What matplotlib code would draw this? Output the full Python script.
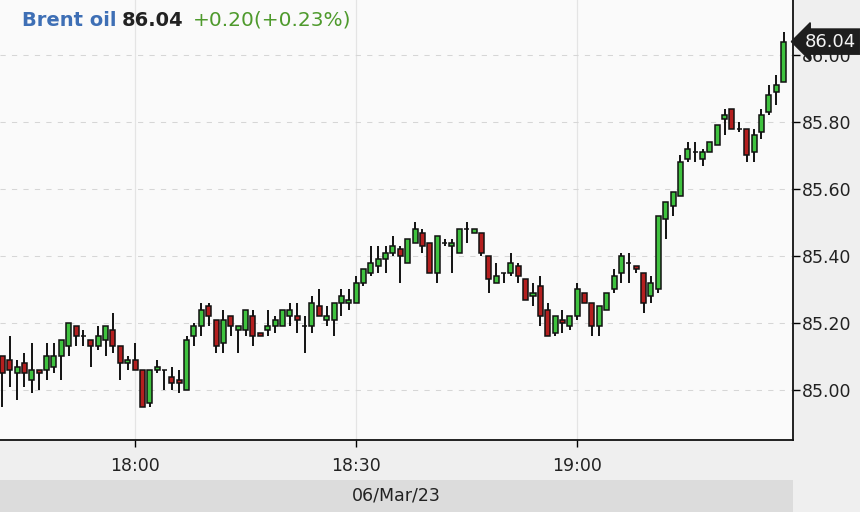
import matplotlib
matplotlib.use("Agg")
import matplotlib.pyplot as plt
import matplotlib.dates as mdates
from matplotlib.patches import Rectangle
import numpy as np
import pandas as pd

# one-minute candles, 06/Mar/23 from 17:42
start = "2023-03-06 17:42"
opens = [85.10, 85.09, 85.05, 85.08, 85.03, 85.06, 85.06, 85.07, 85.10, 85.13,
         85.19, 85.16, 85.15, 85.13, 85.15, 85.18, 85.13, 85.08, 85.09, 85.06,
         84.96, 85.06, 85.06, 85.04, 85.03, 85.00, 85.16, 85.19, 85.25, 85.21,
         85.14, 85.22, 85.18, 85.18, 85.22, 85.17, 85.18, 85.19, 85.19, 85.22,
         85.22, 85.19, 85.19, 85.25, 85.21, 85.21, 85.26, 85.26, 85.26, 85.32,
         85.35, 85.37, 85.39, 85.41, 85.42, 85.38, 85.44, 85.47, 85.44, 85.35,
         85.44, 85.43, 85.41, 85.48, 85.47, 85.47, 85.40, 85.32, 85.35, 85.35,
         85.37, 85.33, 85.28, 85.31, 85.24, 85.17, 85.21, 85.19, 85.22, 85.29,
         85.26, 85.19, 85.24, 85.30, 85.35, 85.38, 85.37, 85.35, 85.28, 85.30,
         85.51, 85.55, 85.58, 85.69, 85.71, 85.69, 85.71, 85.73, 85.81, 85.84,
         85.78, 85.78, 85.71, 85.77, 85.83, 85.89, 85.92]
highs = [85.10, 85.16, 85.09, 85.11, 85.14, 85.06, 85.14, 85.14, 85.15, 85.20,
         85.19, 85.18, 85.15, 85.19, 85.19, 85.23, 85.13, 85.10, 85.14, 85.06,
         85.06, 85.09, 85.06, 85.07, 85.06, 85.16, 85.20, 85.26, 85.26, 85.21,
         85.24, 85.22, 85.19, 85.24, 85.24, 85.17, 85.24, 85.22, 85.24, 85.26,
         85.26, 85.22, 85.28, 85.30, 85.25, 85.26, 85.30, 85.30, 85.34, 85.36,
         85.43, 85.43, 85.43, 85.46, 85.43, 85.45, 85.50, 85.48, 85.44, 85.46,
         85.45, 85.45, 85.48, 85.50, 85.48, 85.47, 85.40, 85.38, 85.35, 85.41,
         85.38, 85.33, 85.32, 85.34, 85.26, 85.22, 85.24, 85.22, 85.32, 85.29,
         85.26, 85.25, 85.29, 85.36, 85.41, 85.41, 85.37, 85.35, 85.34, 85.52,
         85.56, 85.59, 85.70, 85.74, 85.74, 85.72, 85.74, 85.79, 85.84, 85.84,
         85.80, 85.78, 85.78, 85.84, 85.91, 85.94, 86.07]
lows = [84.95, 85.01, 84.97, 85.01, 84.99, 85.00, 85.03, 85.05, 85.03, 85.10,
        85.13, 85.13, 85.07, 85.12, 85.10, 85.11, 85.03, 85.06, 85.06, 84.95,
        84.95, 85.05, 85.00, 85.00, 84.99, 85.00, 85.13, 85.16, 85.19, 85.11,
        85.11, 85.16, 85.11, 85.16, 85.13, 85.16, 85.16, 85.17, 85.19, 85.19,
        85.17, 85.11, 85.17, 85.22, 85.19, 85.16, 85.22, 85.24, 85.26, 85.31,
        85.34, 85.35, 85.35, 85.40, 85.32, 85.38, 85.44, 85.41, 85.35, 85.32,
        85.43, 85.35, 85.41, 85.44, 85.47, 85.40, 85.29, 85.32, 85.32, 85.34,
        85.32, 85.27, 85.25, 85.19, 85.16, 85.16, 85.17, 85.18, 85.21, 85.26,
        85.16, 85.16, 85.24, 85.29, 85.32, 85.32, 85.35, 85.23, 85.26, 85.29,
        85.45, 85.52, 85.58, 85.68, 85.68, 85.67, 85.71, 85.73, 85.76, 85.78,
        85.77, 85.68, 85.68, 85.75, 85.82, 85.85, 85.92]
closes = [85.05, 85.06, 85.07, 85.05, 85.06, 85.05, 85.10, 85.10, 85.15, 85.20,
          85.16, 85.16, 85.13, 85.16, 85.19, 85.13, 85.08, 85.09, 85.06, 84.95,
          85.06, 85.07, 85.06, 85.02, 85.02, 85.15, 85.19, 85.24, 85.22, 85.13,
          85.21, 85.19, 85.19, 85.24, 85.16, 85.16, 85.19, 85.21, 85.24, 85.24,
          85.21, 85.19, 85.26, 85.22, 85.22, 85.26, 85.28, 85.27, 85.32, 85.36,
          85.38, 85.39, 85.41, 85.43, 85.40, 85.45, 85.48, 85.43, 85.35, 85.46,
          85.44, 85.44, 85.48, 85.48, 85.48, 85.41, 85.33, 85.34, 85.35, 85.38,
          85.34, 85.27, 85.29, 85.22, 85.16, 85.22, 85.20, 85.22, 85.30, 85.26,
          85.19, 85.25, 85.29, 85.34, 85.40, 85.38, 85.36, 85.26, 85.32, 85.52,
          85.56, 85.59, 85.68, 85.72, 85.71, 85.71, 85.74, 85.79, 85.82, 85.78,
          85.78, 85.70, 85.76, 85.82, 85.88, 85.91, 86.04]

price_ticks = [85.00, 85.20, 85.40, 85.60, 85.80, 86.00]
title_name = "Brent oil"
last_price = "86.04"
change_text = "+0.20(+0.23%)"
date_label = "06/Mar/23"

W, H = 860, 512
fig = plt.figure(figsize=(W / 100, H / 100), dpi=100, facecolor="#efefef")

# date band below the time axis
fig.patches.append(Rectangle((0, 0), 792.5 / W, 32 / H, transform=fig.transFigure,
                             facecolor="#dcdcdc", edgecolor="none", zorder=0))

ax = fig.add_axes([0, 72 / H, 792.5 / W, 440 / H])
ax.set_facecolor("#fafafa")

times = pd.date_range(start, periods=len(opens), freq="min")
x = mdates.date2num(times)
o = np.array(opens)
c = np.array(closes)
up = c >= o
one_min = 1 / 1440.0

ax.vlines(x, lows, highs, color="#111111", lw=1.4, zorder=2)
ax.bar(x, np.abs(c - o), bottom=np.minimum(o, c), width=0.68 * one_min,
       color=np.where(up, "#3fc23f", "#b41f1f"), edgecolor="#111111",
       linewidth=1.1, zorder=3)

t0 = mdates.date2num(pd.Timestamp("2023-03-06 18:00"))
ax.set_xlim(t0 - 18.32 * one_min, t0 + 89.21 * one_min)
ax.set_ylim(84.8507, 86.1642)

ax.xaxis.set_major_locator(mdates.MinuteLocator(byminute=[0, 30]))
ax.xaxis.set_major_formatter(mdates.DateFormatter("%H:%M"))
ax.yaxis.tick_right()
ax.set_yticks(price_ticks)
ax.set_yticklabels([f"{v:.2f}" for v in price_ticks])

ax.grid(True, axis="y", color="#d6d6d6", lw=0.75, ls=(0, (5, 6)))
ax.grid(True, axis="x", color="#e4e4e4", lw=0.9, ls="-")
ax.set_axisbelow(True)
for s in ["left", "top"]:
    ax.spines[s].set_visible(False)
for s in ["right", "bottom"]:
    ax.spines[s].set_linewidth(1.3)
    ax.spines[s].set_color("#111111")
ax.tick_params(axis="y", direction="out", length=5, width=1, pad=2,
               labelsize=12.5, labelcolor="#222222")
ax.tick_params(axis="x", direction="out", length=5, width=1, pad=7,
               labelsize=12.5, labelcolor="#222222")

# last price marker
ax.annotate(last_price, xy=(1.0, float(closes[-1])), xycoords=("axes fraction", "data"),
            xytext=(9, 0), textcoords="offset points", va="center", ha="left",
            fontsize=13, color="#f4f4f4", annotation_clip=False, zorder=10,
            bbox=dict(boxstyle="larrow,pad=0.2", fc="#1e1e1e", ec="#1e1e1e"))

# header
fig.text(22 / W, 1 - 20 / H, title_name, fontsize=14, fontweight="bold",
         color="#3e6fb5", va="center", ha="left")
fig.text(122 / W, 1 - 20 / H, last_price, fontsize=14, fontweight="bold",
         color="#222222", va="center", ha="left")
fig.text(193 / W, 1 - 20 / H, change_text, fontsize=14.5,
         color="#4e9a2c", va="center", ha="left")

fig.text(396 / W, 1 - 495 / H, date_label, fontsize=12.5, color="#222222",
         va="center", ha="center")

fig.savefig("out.png", dpi=100, facecolor=fig.get_facecolor())
